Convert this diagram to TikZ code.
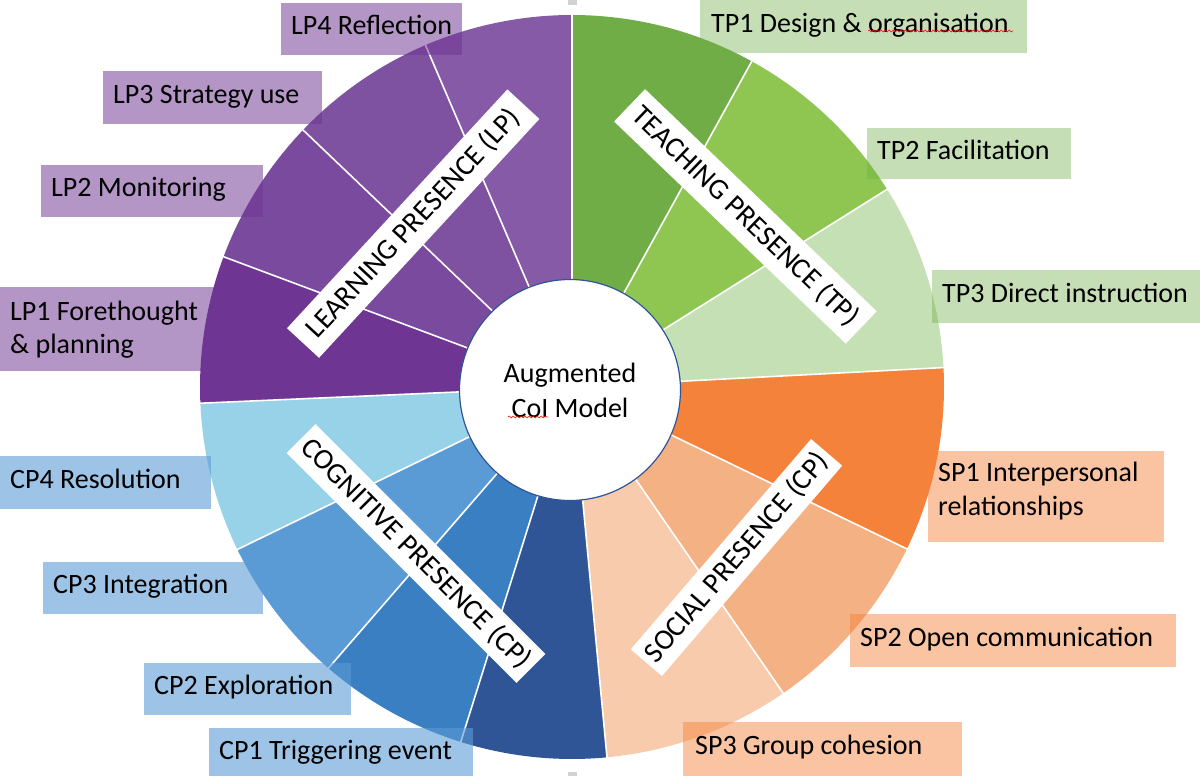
\documentclass[tikz,border=0pt]{standalone}
\usepackage{fontspec}
\setmainfont{Carlito}
\usetikzlibrary{decorations.pathmorphing}
\definecolor{tpA}{HTML}{70AD47}
\definecolor{tpB}{HTML}{8FC652}
\definecolor{tpC}{HTML}{C5E0B4}
\definecolor{spA}{HTML}{F4823A}
\definecolor{spB}{HTML}{F4B183}
\definecolor{spC}{HTML}{F8CBAD}
\definecolor{cpA}{HTML}{2F5597}
\definecolor{cpB}{HTML}{3A7FC1}
\definecolor{cpC}{HTML}{5B9BD5}
\definecolor{cpD}{HTML}{97D2E9}
\definecolor{lpA}{HTML}{6F3592}
\definecolor{lpB}{HTML}{7A4A9E}
\definecolor{lpC}{HTML}{7E52A1}
\definecolor{lpD}{HTML}{865AA6}
\definecolor{ring}{HTML}{2F5597}
\newcommand{\pieseg}[3]{\fill[#1] (0,0) -- (#2:372pt) arc[start angle=#2, end angle=#3, radius=372pt] -- cycle;}
\begin{document}
\begin{tikzpicture}[x=1pt, y=-1pt,
  lbl/.style={font=\fontsize{28}{33.5}\selectfont, inner sep=0pt, anchor=base west, text=black},
  tagbox/.style={anchor=north west, inner sep=0pt, draw=none},
  pbox/.style={tagbox, fill=lpA, fill opacity=0.52},
  bbox/.style={tagbox, fill=cpC, fill opacity=0.6},
  obox/.style={tagbox, fill=spA, fill opacity=0.48},
  gbox/.style={tagbox, fill=tpA, fill opacity=0.4},
  presence/.style={fill=white, inner sep=0pt, font=\fontsize{29}{30}\selectfont, text=black},
  squig/.style={draw=red, line width=0.6pt, decorate, decoration={snake, amplitude=0.9pt, segment length=4pt}},
  edgemark/.style={fill=gray!35, draw=none, inner sep=0pt}]
\useasboundingbox (0,0) rectangle (1200,776);
\clip (0,0) rectangle (1200,776);

% wheel
\begin{scope}[shift={(572,387)}]
 \pieseg{tpA}{90}{61.1}
 \pieseg{tpB}{61.1}{32.1}
 \pieseg{tpC}{32.1}{3}
 \pieseg{spA}{3}{-25.8}
 \pieseg{spB}{-25.8}{-55.4}
 \pieseg{spC}{-55.4}{-84.6}
 \pieseg{cpA}{-84.6}{-107.4}
 \pieseg{cpB}{-107.4}{-130.9}
 \pieseg{cpC}{-130.9}{-154.1}
 \pieseg{cpD}{-154.1}{-177.5}
 \pieseg{lpA}{182.5}{159.5}
 \pieseg{lpB}{159.5}{136.3}
 \pieseg{lpC}{136.3}{113.2}
 \pieseg{lpD}{113.2}{90}
 \foreach \a in {90,61.1,32.1,3,-25.8,-55.4,-84.6,-107.4,-130.9,-154.1,182.5,159.5,136.3,113.2}
   \draw[white, line width=1.6pt] (\a:90pt) -- (\a:374pt);
\end{scope}

% small grey marks at top and bottom edge
\node[edgemark, minimum width=9pt, minimum height=5pt, anchor=north] (topmark) at (572,0) {};
\node[edgemark, minimum width=9pt, minimum height=4pt, anchor=south] (botmark) at (572,776) {};

% centre
\node[circle, draw=ring, line width=1.2pt, fill=white, minimum size=221pt, inner sep=0pt,
      align=center, font=\fontsize{28}{35}\selectfont] (core) at (570,390) {Augmented\\CoI Model};
\draw[squig] (508,417) -- (548,417);

% presence labels
\node[presence, rotate=47.3, minimum width=325pt, minimum height=43.6pt] (lp) at (413.2,223.6) {LEARNING PRESENCE (LP)};
\node[presence, rotate=-43.8, minimum width=321pt, minimum height=44.8pt] (tp) at (745.4,216.4) {TEACHING PRESENCE (TP)};
\node[presence, rotate=-45, minimum width=325pt, minimum height=41pt] (cp) at (416,553.5) {COGNITIVE PRESENCE (CP)};
\node[presence, rotate=49.4, minimum width=277pt, minimum height=41pt] (sp) at (736.5,557.5) {SOCIAL PRESENCE (CP)};

% outer tag boxes
\node[pbox, minimum width=181pt, minimum height=52pt] (lp4) at (281,3) {};
\node[pbox, minimum width=219pt, minimum height=53pt] (lp3) at (103,71) {};
\node[pbox, minimum width=222pt, minimum height=52pt] (lp2) at (41,165) {};
\node[pbox, minimum width=229pt, minimum height=84pt] (lp1) at (0,287) {};
\node[bbox, minimum width=211pt, minimum height=53pt] (cp4) at (0,456) {};
\node[bbox, minimum width=220pt, minimum height=52pt] (cp3) at (43,562) {};
\node[bbox, minimum width=207pt, minimum height=52pt] (cp2) at (144,663) {};
\node[bbox, minimum width=264pt, minimum height=52pt] (cp1) at (209,728) {};
\node[obox, minimum width=279pt, minimum height=54pt] (sp3) at (683,722) {};
\node[obox, minimum width=326pt, minimum height=53pt] (sp2) at (850,614) {};
\node[obox, minimum width=236pt, minimum height=91pt] (sp1) at (928,451) {};
\node[gbox, minimum width=268pt, minimum height=53pt] (tp3) at (932,270) {};
\node[gbox, minimum width=204pt, minimum height=51pt] (tp2) at (867,128) {};
\node[gbox, minimum width=327pt, minimum height=53pt] (tp1) at (700,0) {};

% tag texts
\node[lbl] (lp4t) at ([xshift=10pt, yshift=-5.5pt]lp4.west) {LP4 Reflection};
\node[lbl] (lp3t) at ([xshift=10pt, yshift=-5.5pt]lp3.west) {LP3 Strategy use};
\node[lbl] (lp2t) at ([xshift=10pt, yshift=-5.5pt]lp2.west) {LP2 Monitoring};
\node[lbl] (lp1t) at ([xshift=10pt, yshift=-33pt]lp1.north west) {LP1 Forethought};
\node[lbl] (lp1u) at ([xshift=10pt, yshift=-66.5pt]lp1.north west) {\& planning};
\node[lbl] (cp4t) at ([xshift=10pt, yshift=-5.5pt]cp4.west) {CP4 Resolution};
\node[lbl] (cp3t) at ([xshift=10pt, yshift=-5.5pt]cp3.west) {CP3 Integration};
\node[lbl] (cp2t) at ([xshift=10pt, yshift=-5.5pt]cp2.west) {CP2 Exploration};
\node[lbl] (cp1t) at ([xshift=10pt, yshift=-5.5pt]cp1.west) {CP1 Triggering event};
\node[lbl] (sp3t) at ([xshift=12pt, yshift=-5.5pt]sp3.west) {SP3 Group cohesion};
\node[lbl] (sp2t) at ([xshift=10pt, yshift=-5.5pt]sp2.west) {SP2 Open communication};
\node[lbl] (sp1t) at ([xshift=10pt, yshift=-30.7pt]sp1.north west) {SP1 Interpersonal};
\node[lbl] (sp1u) at ([xshift=10pt, yshift=-64pt]sp1.north west) {relationships};
\node[lbl] (tp3t) at ([xshift=10pt, yshift=-5.5pt]tp3.west) {TP3 Direct instruction};
\node[lbl] (tp2t) at ([xshift=10pt, yshift=-5.5pt]tp2.west) {TP2 Facilitation};
\node[lbl] (tp1t) at ([xshift=11pt, yshift=-5.5pt]tp1.west) {TP1 Design \& organisation};
\draw[squig] (868,31) -- (1013,31);
\end{tikzpicture}
\end{document}
